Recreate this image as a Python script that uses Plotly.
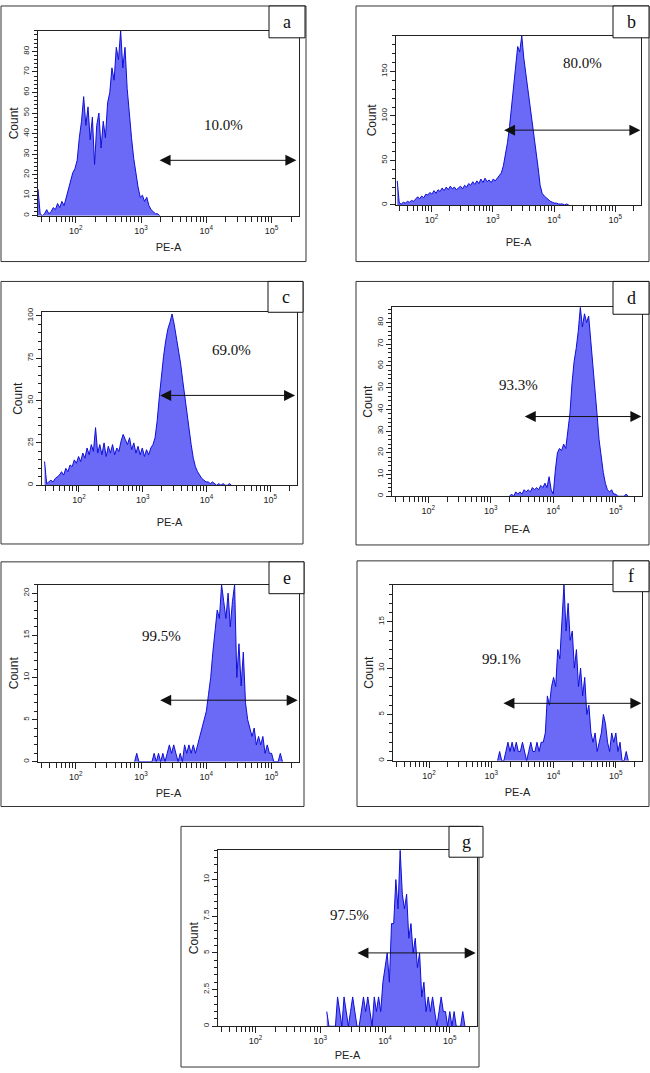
import plotly.graph_objects as go

FIG_W, FIG_H = 650, 1073
BIN_STEP = 1 / 30  # width of one histogram channel, in decades

# ---------------- data (counts per log channel) ----------------
A_START = 1.42
A_COUNTS = [13, 1, 0, 1, 3, 1, 2, 4, 3, 6, 4, 7, 5, 9, 13, 17, 21, 23, 27, 38, 46, 58, 44, 53,
            37, 48, 25, 44, 50, 33, 46, 38, 55, 60, 72, 66, 82, 76, 90, 72, 82, 62, 48, 38, 28,
            20, 14, 9, 10, 7, 9, 5, 3, 2, 1, 1, 0]

B_START = 1.44
B_COUNTS = [27, 2, 1, 3, 2, 4, 3, 5, 4, 7, 9, 7, 10, 8, 12, 11, 14, 12, 16, 13, 17, 15, 19, 16,
            20, 17, 21, 18, 20, 17, 19, 21, 18, 22, 20, 24, 22, 26, 23, 27, 24, 29, 25, 30, 26,
            28, 25, 29, 27, 30, 32, 36, 44, 55, 70, 88, 112, 138, 162, 178, 172, 190, 165, 148,
            132, 115, 98, 80, 62, 42, 22, 13, 10, 8, 5, 4, 3, 2, 2, 1, 1, 1, 0, 1, 0]

C_START = 1.46
C_COUNTS = [14, 1, 2, 3, 2, 4, 5, 6, 8, 6, 10, 8, 12, 11, 15, 13, 17, 14, 19, 16, 22, 18, 24, 20,
            34, 19, 24, 18, 25, 17, 23, 19, 24, 18, 22, 20, 26, 30, 27, 24, 28, 21, 25, 19, 23,
            18, 22, 17, 21, 18, 22, 24, 28, 38, 52, 66, 76, 85, 92, 96, 101, 95, 88, 80, 72, 62,
            52, 44, 34, 24, 16, 11, 8, 6, 4, 3, 2, 2, 1, 2, 1, 0, 1, 0, 1, 0, 0, 1, 0]

D_START = 3.30
D_COUNTS = [0, 1, 0, 2, 1, 2, 1, 3, 2, 3, 2, 4, 3, 4, 3, 5, 4, 6, 4, 9, 3, 1, 12, 20, 22, 21, 24,
            22, 30, 38, 52, 62, 68, 76, 87, 78, 84, 80, 83, 72, 64, 50, 38, 26, 17, 11, 6, 3, 2,
            3, 1, 1, 0, 0, 0, 0, 1, 0]

E_START = 2.90
E_COUNTS = [0, 1, 0, 0, 0, 0, 0, 0, 0, 1, 0, 1, 0, 1, 0, 1, 2, 1, 2, 1, 0, 1, 0, 2, 1, 2, 1, 2,
            1, 2, 3, 4, 5, 6, 8, 10, 13, 16, 18, 17, 21, 19, 17, 20, 16, 19, 21, 10, 14, 9, 13, 7,
            5, 4, 3, 4, 2, 3, 2, 3, 1, 2, 1, 1, 0, 0, 0, 1, 0]

F_START = 3.10
F_COUNTS = [0, 1, 0, 0, 1, 2, 1, 2, 1, 2, 1, 1, 2, 1, 0, 1, 2, 1, 1, 2, 1, 2, 2, 3, 7, 6, 8, 9, 8,
            12, 11, 15, 19, 14, 17, 13, 14, 10, 12, 8, 10, 7, 9, 5, 6, 3, 2, 3, 1, 2, 3, 5, 4, 2,
            1, 3, 2, 3, 1, 2, 0, 0, 1, 0]

G_START = 3.10
G_COUNTS = [1, 0, 0, 0, 0, 2, 1, 0, 2, 1, 0, 1, 2, 1, 0, 0, 1, 2, 1, 2, 1, 0, 2, 1, 2, 1, 3, 4, 5,
            3, 7, 7, 10, 8, 12, 9, 8, 9, 6, 7, 5, 6, 4, 5, 2, 3, 1, 2, 1, 2, 1, 0, 1, 2, 1, 1, 0,
            1, 0, 1, 0, 0, 0, 1, 0]

PANEL_LETTERS = ["a", "b", "c", "d", "e", "f", "g"]
PERCENT_LABELS = ["10.0%", "80.0%", "69.0%", "93.3%", "99.5%", "99.1%", "97.5%"]
Y_MAX = [90, 190, 102, 87, 21, 19, 12]
Y_TICK_VALS = [[0, 10, 20, 30, 40, 50, 60, 70, 80], [0, 50, 100, 150], [0, 25, 50, 75, 100],
               [0, 10, 20, 30, 40, 50, 60, 70, 80], [0, 5, 10, 15, 20], [0, 5, 10, 15],
               [0, 2.5, 5, 7.5, 10]]
Y_TICK_TEXT = [["0", "10", "20", "30", "40", "50", "60", "70", "80"], ["0", "50", "100", "150"],
               ["0", "25", "50", "75", "100"], ["0", "10", "20", "30", "40", "50", "60", "70", "80"],
               ["0", "5", "10", "15", "20"], ["0", "5", "10", "15"], ["0", "2.5", "5", "7.5", "10"]]
Y_MINOR_STEP = [2, 10, 5, 2, 1, 1, 0.5]
# gate marker: (left log10, right log10, count level) ; label position: (log10, count)
GATES = [(3.26, 5.38, 27), (3.16, 5.41, 84), (3.25, 5.39, 53), (3.52, 5.41, 36.7),
         (3.27, 5.40, 7.3), (3.17, 5.41, 6.2), (3.55, 5.40, 5.0)]
LABEL_AT = [(4.26, 44), (4.46, 159), (4.40, 80), (3.44, 51), (3.32, 14.9), (3.17, 11), (3.45, 7.6)]

X_RANGE_LOG = [1.42, 5.42]
X_TICK_VALS = [100, 1000, 10000, 100000]
X_TICK_TEXT = ["10<sup>2</sup>", "10<sup>3</sup>", "10<sup>4</sup>", "10<sup>5</sup>"]
X_MINOR_VALS = [30, 40, 50, 60, 70, 80, 90,
                200, 300, 400, 500, 600, 700, 800, 900,
                2000, 3000, 4000, 5000, 6000, 7000, 8000, 9000,
                20000, 30000, 40000, 50000, 60000, 70000, 80000, 90000,
                200000]

STARTS = [A_START, B_START, C_START, D_START, E_START, F_START, G_START]
COUNTS = [A_COUNTS, B_COUNTS, C_COUNTS, D_COUNTS, E_COUNTS, F_COUNTS, G_COUNTS]

# ---------------- layout geometry (pixels) ----------------
PLOT_BOX = [(38, 26, 299, 212), (396, 31, 641, 201), (42, 309, 297, 483), (392, 304, 642, 494),
            (38, 583, 299, 761), (393, 583, 642, 760), (218, 850, 477, 1027)]
FRAME_BOX = [(1, 1, 306, 258), (356, 1, 649, 258), (1, 278, 303, 542), (356, 278, 649, 543),
             (1, 560, 304, 806), (357, 559, 649, 806), (181, 826, 479, 1068)]
TAG_BOX = [(269, 1, 305, 33), (613, 1, 649, 33), (268, 278, 303, 309), (613, 278, 649, 311),
           (269, 560, 304, 592), (613, 559, 649, 590), (449, 826, 483, 857)]
X_TITLE_STANDOFF = [8, 14, 14, 10, 8, 8, 6]

FILL = "rgb(106,106,246)"
EDGE = "rgb(15,15,215)"
INK = "#222222"
SANS = "Liberation Sans, Arial, sans-serif"
SERIF = "Liberation Serif, Times New Roman, serif"


def px(v):
    return v / FIG_W


def py(v):
    return 1 - v / FIG_H


fig = go.Figure()
layout = {}
shapes = []
annotations = []

for k in range(7):
    n = k + 1
    sfx = "" if n == 1 else str(n)
    xa, ya = "x" + sfx, "y" + sfx
    start, counts = STARTS[k], COUNTS[k]
    xs = [10 ** (start + i * BIN_STEP) for i in range(len(counts))]
    fig.add_trace(go.Scatter(
        x=xs, y=counts, xaxis=xa, yaxis=ya, mode="lines", fill="tozeroy",
        fillcolor=FILL, line=dict(color=EDGE, width=1), hoverinfo="skip", showlegend=False))

    x0, y0, x1, y1 = PLOT_BOX[k]
    layout["xaxis" + sfx] = dict(
        domain=[px(x0), px(x1)], anchor=ya, type="log", range=X_RANGE_LOG,
        tickmode="array", tickvals=X_TICK_VALS, ticktext=X_TICK_TEXT,
        ticks="outside", ticklen=6, tickwidth=1, tickcolor=INK,
        minor=dict(tickmode="array", tickvals=X_MINOR_VALS, ticks="outside", ticklen=5,
                   tickwidth=1, tickcolor=INK, showgrid=False),
        showline=True, linecolor=INK, linewidth=1, mirror=True,
        showgrid=False, zeroline=False, fixedrange=True,
        tickfont=dict(family=SANS, size=9, color=INK),
        title=dict(text="PE-A", font=dict(family=SANS, size=11, color=INK),
                   standoff=X_TITLE_STANDOFF[k]))
    layout["yaxis" + sfx] = dict(
        domain=[py(y1), py(y0)], anchor=xa, range=[0, Y_MAX[k]],
        tickmode="array", tickvals=Y_TICK_VALS[k], ticktext=Y_TICK_TEXT[k], tickangle=-90,
        ticks="outside", ticklen=5, tickwidth=1, tickcolor=INK,
        minor=dict(dtick=Y_MINOR_STEP[k], tick0=0, ticks="outside", ticklen=3, tickwidth=1,
                   tickcolor=INK, showgrid=False),
        showline=True, linecolor=INK, linewidth=1, mirror=True,
        showgrid=False, zeroline=False, fixedrange=True,
        tickfont=dict(family=SANS, size=8, color=INK),
        title=dict(text="Count", font=dict(family=SANS, size=12, color=INK), standoff=0))

    # outer frame
    fx0, fy0, fx1, fy1 = FRAME_BOX[k]
    shapes.append(dict(type="rect", xref="paper", yref="paper", x0=px(fx0), x1=px(fx1),
                       y0=py(fy1), y1=py(fy0), line=dict(color="#333333", width=1),
                       fillcolor="rgba(0,0,0,0)", layer="above"))
    # letter tag box
    tx0, ty0, tx1, ty1 = TAG_BOX[k]
    shapes.append(dict(type="rect", xref="paper", yref="paper", x0=px(tx0), x1=px(tx1),
                       y0=py(ty1), y1=py(ty0), line=dict(color="#111111", width=1),
                       fillcolor="white", layer="above"))
    annotations.append(dict(xref="paper", yref="paper", x=px((tx0 + tx1) / 2),
                            y=py((ty0 + ty1) / 2), text=PANEL_LETTERS[k], showarrow=False,
                            xanchor="center", yanchor="middle",
                            font=dict(family=SERIF, size=18, color="#111111")))
    # gate double arrow
    gl, gr, gy = GATES[k]
    annotations.append(dict(xref=xa, yref=ya, axref=xa, ayref=ya, x=gr, y=gy, ax=gl, ay=gy,
                            text="", showarrow=True, arrowhead=2, startarrowhead=2,
                            arrowside="end+start", arrowsize=2.2, startarrowsize=2.2,
                            arrowwidth=1, arrowcolor="#111111"))
    # percentage label
    lx, ly = LABEL_AT[k]
    annotations.append(dict(xref=xa, yref=ya, x=lx, y=ly, text=PERCENT_LABELS[k],
                            showarrow=False, xanchor="center", yanchor="middle",
                            font=dict(family=SERIF, size=15, color="#111111")))

layout.update(width=FIG_W, height=FIG_H, autosize=False,
              margin=dict(l=0, r=0, t=0, b=0, pad=0),
              paper_bgcolor="white", plot_bgcolor="white",
              shapes=shapes, annotations=annotations, showlegend=False)
fig.update_layout(**layout)
fig.write_html(
    "out.html",
    config={"displayModeBar": False, "staticPlot": True},
    post_script=("document.documentElement.style.margin='0';"
                 "document.body.style.margin='0';document.body.style.padding='0';"
                 "document.body.style.overflow='hidden';"))
